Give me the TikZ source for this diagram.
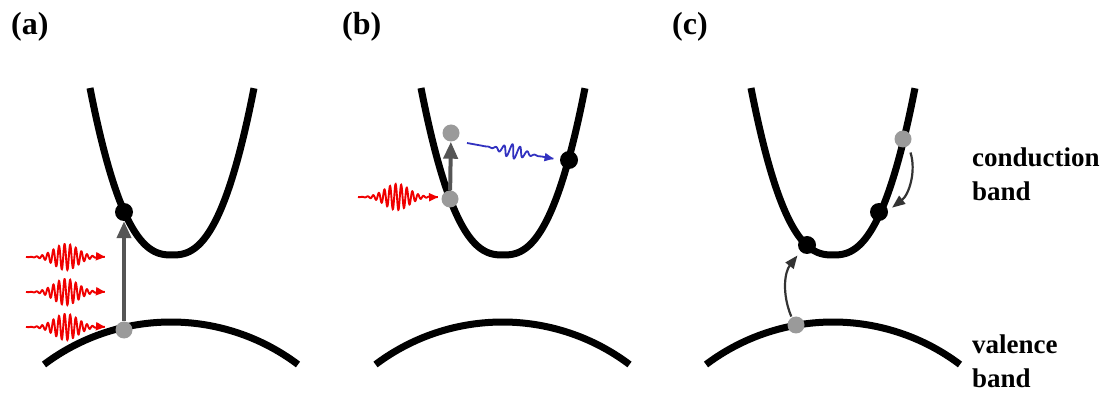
\documentclass[tikz,border=0pt]{standalone}
\usepackage{fontspec}
\setmainfont{Liberation Serif}
\usetikzlibrary{arrows.meta}
\definecolor{dotgrey}{HTML}{9A9A9A}
\definecolor{vertgrey}{HTML}{555555}
\definecolor{hopgrey}{HTML}{333333}
\definecolor{wavered}{HTML}{F00000}
\definecolor{waveblue}{HTML}{3232C0}
\newcommand\cbandcurve[1]{\draw[band] plot[domain=-1:1,samples=81,smooth] ({#1+82*\x},{255-167*\x*\x*sqrt(abs(\x))});}
\newcommand\vbandcurve[1]{\draw[band] plot[domain=-37:37,samples=41,smooth] ({#1+211*sin(\x)},{533-211*cos(\x)});}
% #1 start x, #2 start y, #3 length, #4 centre offset, #5 amplitude, #6 sigma, #7 wavelength, #8 style, #9 rotation
\newcommand\wavepacket[9]{%
  \begin{scope}[shift={(#1,#2)},rotate=#9]
    \draw[#8] plot[domain=0:#3,samples=360] (\x,{#5*exp(-((\x-#4)/#6)^2)*sin((\x-#4)*(360/#7))});
  \end{scope}}
\begin{document}
\begin{tikzpicture}[x=1pt,y=-1pt,
  band/.style={line width=7pt,black},
  gdot/.style={circle,fill=dotgrey,minimum size=17pt,inner sep=0pt},
  kdot/.style={circle,fill=black,minimum size=18pt,inner sep=0pt},
  vert/.style={draw=vertgrey,line width=4pt,-{Triangle[length=17pt,width=14pt]}},
  hop/.style={draw=hopgrey,line width=2.2pt,-{Triangle[length=13pt,width=10pt]}},
  redphoton/.style={draw=wavered,line width=1.9pt,-{Triangle[length=9pt,width=8pt]}},
  bluephoton/.style={draw=waveblue,line width=1.8pt,-{Triangle[length=9pt,width=8pt]}},
  panellab/.style={font=\bfseries\fontsize{32}{32}\selectfont,anchor=base west,inner sep=0pt},
  bandlab/.style={font=\bfseries\fontsize{27}{30}\selectfont,anchor=base west,inner sep=0pt}]
\useasboundingbox[fill=white] (0,0) rectangle (1112,398);

% panel labels
\node[panellab] (la) at (11,35) {(a)};
\node[panellab] (lb) at (342,35) {(b)};
\node[panellab] (lc) at (672,35) {(c)};

% bands
\cbandcurve{172}
\vbandcurve{171}
\cbandcurve{503}
\vbandcurve{502.5}
\cbandcurve{833}
\vbandcurve{833}

% ---- panel (a)
\wavepacket{26}{257}{79}{40}{13}{17}{5.6}{redphoton}{0}
\wavepacket{26}{292}{79}{40}{13}{17}{5.6}{redphoton}{0}
\wavepacket{26}{327}{79}{40}{13}{17}{5.6}{redphoton}{0}
\node[gdot] (av) at (124,330) {};
\node[kdot] (ac) at (124,212) {};
\draw[vert] (av) -- (ac);

% ---- panel (b)
\wavepacket{358}{197}{80}{39}{13}{17}{5.6}{redphoton}{0}
\node[gdot] (blow) at (450,199) {};
\node[gdot] (bup) at (451,133) {};
\node[kdot] (bk) at (569,160) {};
\draw[vert] (blow) -- (bup);
\wavepacket{467}{143}{88}{47}{7}{14}{8}{bluephoton}{-10.3}

% ---- panel (c)
\node[gdot] (cg) at (903,139) {};
\node[kdot] (ck1) at (879,212) {};
\node[kdot] (ck2) at (807,245) {};
\node[gdot] (cv) at (796,325) {};
\draw[hop,shorten <=1pt,shorten >=5pt] (cv.120) to[bend left=30] (ck2.225);
\draw[hop,shorten <=7pt,shorten >=5pt] (cg.-52) to[bend left=35] (ck1.8);

% band labels
\node[bandlab] (cb1) at (972,167) {conduction};
\node[bandlab] (cb2) at (972,201) {band};
\node[bandlab] (vb1) at (972,353) {valence};
\node[bandlab] (vb2) at (972,387) {band};
\end{tikzpicture}
\end{document}
